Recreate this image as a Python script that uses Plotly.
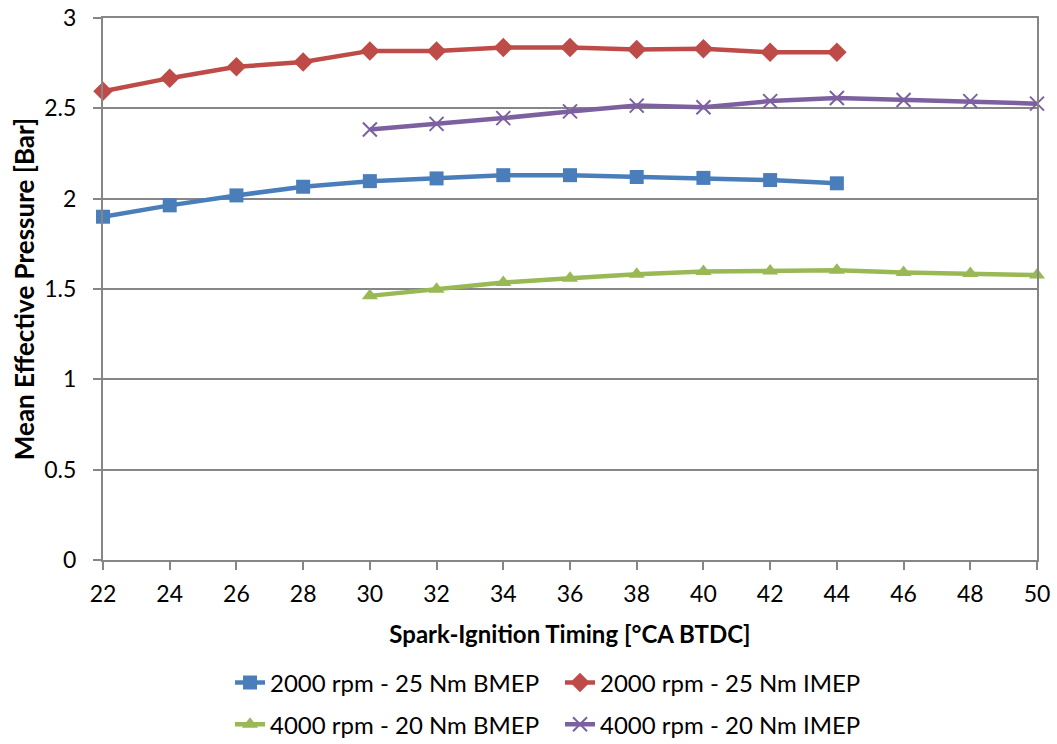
import plotly.graph_objects as go

x_2000 = [22, 24, 26, 28, 30, 32, 34, 36, 38, 40, 42, 44]
bmep_2000 = [1.90, 1.963, 2.018, 2.066, 2.097, 2.112, 2.13, 2.13, 2.12, 2.115, 2.103, 2.085]
imep_2000 = [2.594, 2.667, 2.73, 2.756, 2.818, 2.818, 2.837, 2.837, 2.826, 2.83, 2.81, 2.81]

x_4000 = [30, 32, 34, 36, 38, 40, 42, 44, 46, 48, 50]
bmep_4000 = [1.462, 1.499, 1.536, 1.56, 1.582, 1.597, 1.60, 1.604, 1.591, 1.586, 1.577]
imep_4000 = [2.383, 2.414, 2.446, 2.483, 2.515, 2.506, 2.54, 2.557, 2.546, 2.54, 2.526]

x_ticks = list(range(22, 51, 2))
y_ticks = [0, 0.5, 1, 1.5, 2, 2.5, 3]

FONT = "Lato, Carlito, Calibri, sans-serif"

fig = go.Figure()
fig.add_trace(go.Scatter(x=x_2000, y=bmep_2000, mode="lines+markers", name="2000 rpm - 25 Nm BMEP",
                         line=dict(color="#4A7EBB", width=4.5), marker=dict(symbol="square", size=14, color="#4A7EBB"),
                         cliponaxis=False, legend="legend"))
fig.add_trace(go.Scatter(x=x_2000, y=imep_2000, mode="lines+markers", name="2000 rpm - 25 Nm IMEP",
                         line=dict(color="#BE4B48", width=4.5), marker=dict(symbol="diamond", size=15, color="#BE4B48"),
                         cliponaxis=False, legend="legend"))
fig.add_trace(go.Scatter(x=x_4000, y=bmep_4000, mode="lines+markers", name="4000 rpm - 20 Nm BMEP",
                         line=dict(color="#98B954", width=4.5), marker=dict(symbol="triangle-up", size=14, color="#98B954"),
                         cliponaxis=False, legend="legend2"))
fig.add_trace(go.Scatter(x=x_4000, y=imep_4000, mode="lines+markers", name="4000 rpm - 20 Nm IMEP",
                         line=dict(color="#7D60A0", width=4.5),
                         marker=dict(symbol="x-thin", size=14, color="#7D60A0", line=dict(color="#7D60A0", width=2)),
                         cliponaxis=False, legend="legend2"))

fig.update_layout(
    width=1057, height=744,
    margin=dict(l=103, r=20, t=18, b=184, autoexpand=False),
    paper_bgcolor="white", plot_bgcolor="white",
    font=dict(family=FONT, size=23, color="black"),
    xaxis=dict(range=[22, 50], tickvals=x_ticks, showgrid=False, zeroline=False,
               showline=True, linecolor="#868686", linewidth=2, mirror=True,
               ticks="outside", ticklen=8, tickcolor="#868686", tickwidth=2, ticklabelstandoff=4,
               title=dict(text="<b>Spark-Ignition Timing [°CA BTDC]</b>", font=dict(size=24), standoff=21)),
    yaxis=dict(range=[0, 3], tickvals=y_ticks, ticktext=["0", "0.5", "1", "1.5", "2", "2.5", "3"],
               showgrid=True, gridcolor="#868686", gridwidth=1.5, zeroline=False,
               showline=True, linecolor="#868686", linewidth=2, mirror=True,
               ticks="outside", ticklen=8, tickcolor="#868686", tickwidth=2, ticklabelstandoff=12,
               title=dict(text="<b>Mean Effective Pressure [Bar]</b>", font=dict(size=26), standoff=2)),
    legend=dict(orientation="h", x=0.136, xanchor="left", yref="container", y=0.082, yanchor="middle",
                font=dict(size=24), entrywidth=285, bgcolor="rgba(0,0,0,0)"),
    legend2=dict(orientation="h", x=0.136, xanchor="left", yref="container", y=0.026, yanchor="middle",
                 font=dict(size=24), entrywidth=285, bgcolor="rgba(0,0,0,0)"),
)

fig.write_html("out.html")
